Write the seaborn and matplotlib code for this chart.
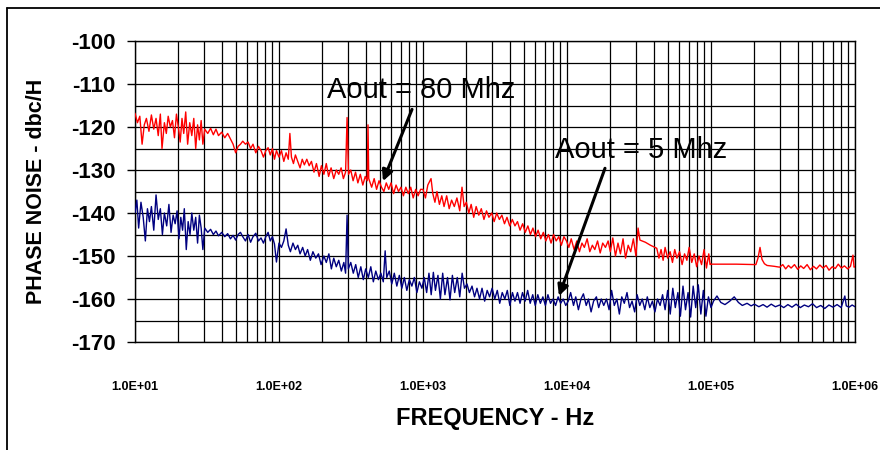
import numpy as np
import pandas as pd
import matplotlib
matplotlib.use("Agg")
import matplotlib.pyplot as plt
import seaborn as sns
from matplotlib.ticker import LogLocator, FuncFormatter, MultipleLocator, NullFormatter
from matplotlib.lines import Line2D

# ---------------- data ----------------
red_freq = [10, 10.4, 10.8, 11.2, 11.6, 12.0, 12.5, 13.0, 13.5, 14.0, 14.5, 15.0, 15.4, 16.0, 16.5,
            17.0, 17.6, 18.2, 18.8, 19.4, 20.0, 20.6, 21.2, 21.8, 22.5, 23.2, 24.0, 24.8, 25.6, 26.4,
            27.2, 28.0, 28.8, 29.6, 30.5, 32, 33.5, 35, 36.5, 38, 40, 42, 44, 46, 48, 50, 52, 54, 56,
            58.5, 61, 63.5, 66, 69, 72, 75, 78, 81, 84, 87, 90, 93, 96,
            100, 104, 108, 112, 116, 119, 122, 126, 130, 135, 140, 145, 150, 156, 162, 168, 175, 182,
            190, 197, 205, 213, 221, 230, 240, 250, 260, 270, 280, 290, 297, 304, 315, 327, 340, 353,
            367, 382, 397, 410, 415, 420, 440, 458, 476, 495, 515, 535, 556, 578, 600, 625, 650, 676,
            703, 731, 760, 790, 822, 855, 890, 925, 962,
            1000, 1040, 1080, 1137, 1170, 1210, 1250, 1300, 1350, 1400, 1460, 1520, 1580, 1650, 1720,
            1800, 1866, 1930, 2000, 2080, 2160, 2250, 2340, 2440, 2540, 2650, 2760, 2870, 3000, 3120,
            3250, 3390, 3530, 3680, 3830, 4000, 4170, 4350, 4530, 4720, 4920, 5130, 5350, 5570, 5800,
            6050, 6300, 6570, 6850, 7130, 7430, 7750, 8070, 8410, 8770, 9140, 9520, 9920,
            10300, 10700, 11200, 11700, 12200, 12700, 13200, 13800, 14400, 15000, 15600, 16300, 17000,
            17700, 18500, 19300, 20000, 20800, 21700, 22600, 23500, 24500, 25500, 26600, 27700, 28900,
            30100, 31150, 32100, 35000, 38000, 42000, 43500, 45000, 46500, 48000, 50000, 52000, 54000,
            56000, 58000, 60500, 63000, 65500, 68000, 70500, 73500, 76500, 79500, 82500, 86000, 89500,
            93000, 96500, 98500,
            100000, 150000, 205000, 212000, 219000, 226000, 235000, 245000, 275000, 300000, 315000,
            330000, 345000, 360000, 380000, 400000, 420000, 440000, 465000, 490000, 515000, 540000,
            570000, 600000, 630000, 660000, 695000, 730000, 765000, 805000, 845000, 890000, 930000,
            968000, 985000, 1000000]
red_db = [-116.8, -119, -117.5, -124, -119.5, -118, -121, -117.2, -120.5, -118, -122, -117, -125, -119, -121.5,
          -117.5, -120, -118.5, -122.5, -117, -120, -123.5, -118, -121.5, -116.5, -124, -119, -122, -118, -125,
          -119.5, -123, -118.5, -124, -120.5, -121.5, -120.3, -121.8, -120.5, -122, -121.2, -122.5, -121.5, -122.8, -124, -126, -124.5, -124, -123.3,
          -124, -123.5, -125, -124, -126, -124.5, -125.5, -127, -125.5, -124.8, -126.5, -125, -127.5, -125.5,
          -127, -125.5, -128, -126, -127.5, -121.5, -127, -128.5, -126.5, -128, -129.5, -127.5, -128.8, -127.5, -129, -128, -130.5, -128.5,
          -131.5, -129, -131, -128.5, -131.5, -129.5, -132, -130, -131, -129.5, -132, -130.5, -117.8, -131, -130, -132.5, -130.5, -133,
          -131, -133.5, -131.5, -132.5, -119.5, -132, -134, -132, -134.5, -132.5, -134, -135, -133, -134.5, -133, -135.5, -133.5, -135,
          -134, -136, -134, -135.5, -134, -136.5, -134.5, -136, -134.5,
          -134.5, -136.5, -133.5, -132, -135.5, -137.5, -135, -138, -136, -138.5, -136, -139, -137, -138.5, -136.5,
          -139.5, -134, -138.5, -137.5, -140, -138, -141, -138.5, -140.5, -139, -141.5, -139.5, -141, -140, -142,
          -140, -141.5, -140.5, -142.5, -141, -143, -141.5, -143, -142, -144, -142.5, -144.5, -143, -145, -143.5,
          -145.5, -144, -146, -144.5, -146.5, -145, -147, -145, -146.5, -145.5, -147.5, -145.5, -146.5,
          -148, -146, -148.5, -146.5, -149, -147, -148, -146, -149, -147.5, -148.5, -146.5, -149.3,
          -147, -148, -146.5, -149, -145.8, -150, -147, -149.5, -146, -150.5, -147.5, -149, -146,
          -150, -143.5, -146.3, -146.8, -147.5, -148.2, -150.5, -148.5, -151, -148, -150.5, -149, -151.5,
          -148.5, -150.5, -149, -152, -149.5, -151, -148, -151.5, -149.5, -152.5, -150, -152, -148.5,
          -152.8, -149.5, -152,
          -151.9, -151.9, -152, -150.5, -148, -150.8, -151.8, -152.2, -152.4, -152.6, -152,
          -153, -152.2, -152.8, -152, -153.1, -152.3, -152.9, -152, -153.2, -152.4, -153,
          -152.1, -152.8, -152.2, -153.3, -152.5, -152.9, -151.9, -152.8, -152.3, -153, -152.4,
          -149.8, -152.6, -152.5]

blue_freq = [10, 10.3, 10.6, 11.0, 11.4, 11.8, 12.2, 12.6, 13.0, 13.5, 14.0, 14.5, 15.0, 15.5, 16.0,
             16.6, 17.2, 17.8, 18.4, 19.0, 19.6, 20.2, 20.8, 21.4, 22.0, 22.7, 23.4, 24.1, 24.8, 25.6,
             26.4, 27.2, 28.0, 28.8, 29.6, 30.5, 32, 33.5, 35, 36.5, 38, 40, 42, 44, 46, 48, 50, 52, 54,
             56, 58.5, 61, 63.5, 66, 69, 72, 75, 78, 81, 84, 87, 90, 93, 96,
             100, 104, 108, 112, 116, 120, 125, 130, 135, 140, 146, 152, 158, 165, 172, 180, 188, 196,
             205, 213, 222, 231, 240, 250, 260, 271, 282, 290, 297, 303, 315, 328, 341, 355, 370, 385,
             400, 417, 434, 452, 470, 490, 510, 530, 546, 560, 583, 607, 632, 658, 685, 713, 742, 772,
             804, 837, 871, 907, 944, 983,
             1020, 1060, 1100, 1140, 1180, 1220, 1270, 1320, 1370, 1420, 1480, 1540, 1600, 1660, 1730,
             1800, 1870, 1940, 2020, 2100, 2190, 2280, 2370, 2470, 2570, 2680, 2790, 2900, 3020, 3150,
             3280, 3410, 3550, 3700, 3850, 4010, 4180, 4350, 4530, 4720, 4910, 5120, 5330, 5550, 5780,
             6020, 6270, 6530, 6800, 7080, 7370, 7680, 8000, 8330, 8680, 9040, 9410, 9800,
             10200, 10600, 11100, 11500, 12000, 12500, 13000, 13600, 14100, 14700, 15300, 16000, 16600,
             17300, 18000, 18800, 19600, 20400, 21300, 22200, 23100, 24000, 25000, 26100, 27200, 28300,
             29500, 30700, 32000, 33300, 34700, 36100, 37600, 39200, 40800, 42500, 44300, 46100, 48000,
             50000, 52100, 54300, 56500, 58900, 61300, 63900, 66500, 69300, 72200, 75200, 78300, 81600,
             85000, 88500, 92200, 96000, 100000,
             104000, 110000, 117000, 125000, 135000, 145000, 155000, 165000, 178000, 190000, 200000,
             215000, 230000, 245000, 262000, 280000, 300000, 320000, 342000, 365000, 390000, 417000,
             445000, 475000, 507000, 541000, 578000, 617000, 659000, 703000, 751000, 802000, 850000,
             870000, 910000, 955000, 1000000]
blue_db = [-140, -137, -143.5, -137.5, -141, -146.5, -139, -142, -138.5, -144, -135.8, -141.5, -139, -145, -140,
           -143, -138, -144.5, -140.5, -142.5, -139.5, -146, -141, -144, -139, -148.5, -142, -145, -140, -144,
           -141, -147, -140.5, -143.5, -148.5, -143.5, -144.5, -143.8, -145, -144.2, -145.3, -144.5, -145.5, -144.8, -146, -145.2, -146.3, -145, -144.5,
           -145.5, -146.5, -145, -146.8, -145.5, -144.7, -146.5, -145.8, -147, -145.5, -144.5, -146.5, -145.5, -147.2, -151.4,
           -147, -148, -146.5, -143.7, -147.5, -149, -147, -148.5, -147.5, -149.5, -148, -150, -148.5, -151, -149, -150.5, -149.5, -152,
           -150, -151.5, -149.5, -153, -150.5, -152.5, -151, -153.5, -151.5, -154, -140.5, -153, -151.5, -154, -152, -155, -152.5, -155.5,
           -153, -155, -152.5, -156, -153.5, -155.5, -154, -156, -148.8, -155, -153.5, -156.5, -154, -157, -154.5, -157.5, -155, -158,
           -155.5, -157, -155, -158.5, -156, -157.5,
           -155, -158.5, -154, -159, -153.8, -158, -154.5, -160, -154, -159, -155, -160.2, -154.5, -158.5, -155,
           -159.5, -154, -157.5, -156.5, -158.5, -157, -159.5, -157.5, -160, -157.5, -160.5, -158, -159.5, -157.5, -160,
           -158, -161, -158.5, -160, -158, -161.5, -158.5, -160.5, -158.5, -161, -158.5, -160.5, -158, -161, -159,
           -161.5, -159, -161, -159.5, -161.5, -159, -161, -160, -161.5, -159.5, -161, -160, -161.5,
           -160.5, -158.5, -161.5, -159.5, -162.5, -160, -158.8, -161.5, -160, -163, -160.5, -159.5, -162,
           -160, -161.5, -160, -162.5, -158, -161.5, -160, -163.5, -159.5, -161, -158.5, -162, -160.5,
           -163, -159, -161.5, -160, -162.5, -159.5, -162, -160.5, -163, -160, -161.5, -159, -162.5,
           -158, -163.5, -157.5, -162, -158.5, -164, -157, -162.5, -158.5, -164.2, -157, -162, -156.7,
           -163.5, -158, -164, -159.5, -162,
           -160.5, -159.3, -160.8, -161.3, -160.5, -159.5, -160.8, -161.5, -161, -161.6, -161.2,
           -161.8, -161.3, -161.9, -161.2, -161.8, -161.4, -162, -161.3, -161.9, -161.2, -162,
           -161.4, -161.8, -161.1, -162, -161.5, -162.2, -161.4, -161.9, -161.3, -162, -159.3,
           -161.6, -161.9, -161.4, -161.8]

y_ticks = [-170, -160, -150, -140, -130, -120, -110, -100]
x_title = "FREQUENCY - Hz"
y_title = "PHASE NOISE - dbc/H"
label_80 = "Aout = 80 Mhz"
label_5 = "Aout = 5 Mhz"

red_df = pd.DataFrame({"freq": red_freq, "db": red_db})
blue_df = pd.DataFrame({"freq": blue_freq, "db": blue_db})

# ---------------- styling ----------------
sns.set_theme(style="white")
plt.rcParams["font.family"] = ["Liberation Sans", "DejaVu Sans"]
plt.rcParams["axes.unicode_minus"] = False
plt.rcParams["text.color"] = "black"
plt.rcParams["axes.labelcolor"] = "black"
plt.rcParams["xtick.color"] = "black"
plt.rcParams["ytick.color"] = "black"

fig = plt.figure(figsize=(8.8, 4.5), dpi=100)
ax = fig.add_axes([135 / 880, 1 - 342 / 450, 720 / 880, 301 / 450])

sns.lineplot(data=red_df, x="freq", y="db", ax=ax, color="#ff0000", lw=1.0,
             estimator=None, sort=False, zorder=3)
sns.lineplot(data=blue_df, x="freq", y="db", ax=ax, color="#000080", lw=1.0,
             estimator=None, sort=False, zorder=3)

ax.set_xscale("log")
ax.set_xlim(10, 1e6)
ax.set_ylim(-170, -100)

ax.xaxis.set_major_locator(LogLocator(base=10, numticks=10))
ax.xaxis.set_minor_locator(LogLocator(base=10, subs=np.arange(2, 10), numticks=100))
ax.xaxis.set_major_formatter(FuncFormatter(lambda v, p: f"{v:.1E}"))
ax.xaxis.set_minor_formatter(NullFormatter())
ax.set_yticks(y_ticks)
ax.yaxis.set_minor_locator(MultipleLocator(5))

ax.grid(True, which="both", axis="both", color="black", lw=0.9, zorder=1)
ax.set_axisbelow(True)

ax.tick_params(axis="x", which="both", length=0, pad=28, labelsize=9, labelcolor="black")
ax.tick_params(axis="y", which="major", length=6, width=1, direction="out",
               color="black", pad=8, labelsize=16, left=True, labelcolor="black")
ax.tick_params(axis="y", which="minor", length=0)
for lab in ax.get_xticklabels() + ax.get_yticklabels():
    lab.set_fontweight("bold")

for s in ax.spines.values():
    s.set_color("black")
    s.set_linewidth(1.0)

ax.set_xlabel(x_title, fontsize=17, fontweight="bold", color="black")
ax.set_ylabel(y_title, fontsize=15.5, fontweight="bold", color="black")
ax.xaxis.label.set_va("center")
ax.yaxis.label.set_va("center")
ax.xaxis.set_label_coords(0.5, (342 - 418) / 301)
ax.yaxis.set_label_coords((37 - 135) / 720, 0.5)

# annotations
ax.text(215, -113.3, label_80, fontsize=21, ha="left", va="baseline", color="black", zorder=5)
ax.annotate("", xy=(527, -132.6), xytext=(839, -115.9),
            arrowprops=dict(arrowstyle="-|>", lw=2.2, color="black", mutation_scale=16,
                            shrinkA=0, shrinkB=0), zorder=5)
ax.text(8253, -127.3, label_5, fontsize=21, ha="left", va="baseline", color="black", zorder=5)
ax.annotate("", xy=(8790, -159.3), xytext=(18360, -129.6),
            arrowprops=dict(arrowstyle="-|>", lw=2.2, color="black", mutation_scale=16,
                            shrinkA=0, shrinkB=0), zorder=5)

# figure frame (top and left only)
fig.add_artist(Line2D([7 / 880, 1.0], [1 - 8 / 450, 1 - 8 / 450], transform=fig.transFigure,
                      color="black", lw=1.3))
fig.add_artist(Line2D([7 / 880, 7 / 880], [0, 1 - 8 / 450], transform=fig.transFigure,
                      color="black", lw=1.3))

fig.savefig("out.png", dpi=100, facecolor="white")
